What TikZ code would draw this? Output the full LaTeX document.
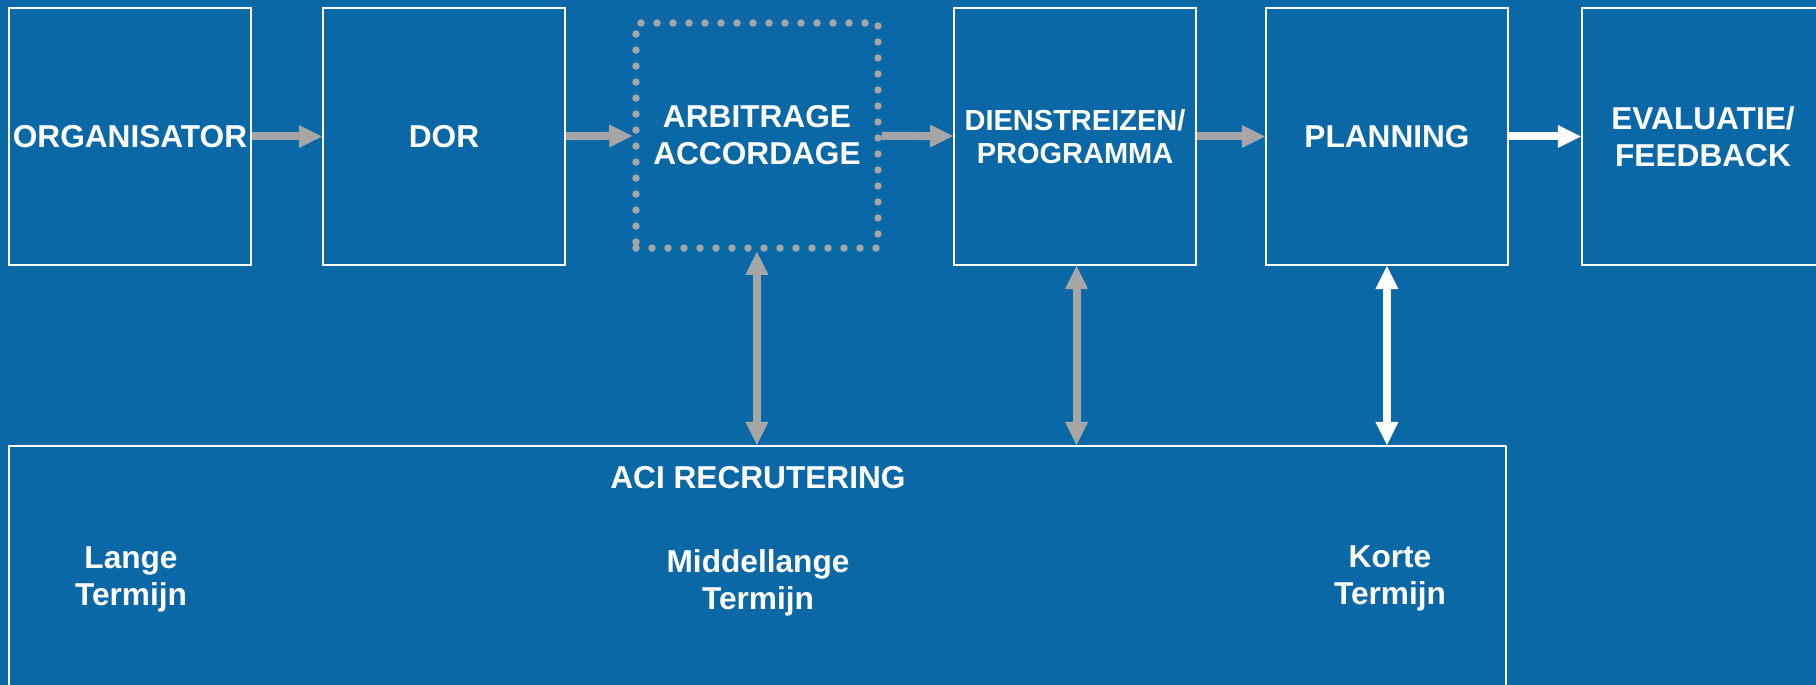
\documentclass[tikz,border=0pt]{standalone}
\usepackage{fontspec}
\setmainfont{Liberation Sans}
\usetikzlibrary{arrows.meta}
\definecolor{slideblue}{HTML}{0B68A6}
\definecolor{arrowgray}{HTML}{A6A6A6}
\newcommand{\boxfont}{\fontsize{18}{21}\selectfont\bfseries}
\newcommand{\narrowfont}{\fontsize{16.5}{18.9}\selectfont\bfseries}
\tikzset{
  stage/.style={draw=white, line width=0.04cm, minimum width=4.84cm, minimum height=5.14cm, align=center, text=white, font=\boxfont},
  dotbox/.style={draw=arrowgray, line width=0.15cm, line cap=round, dash pattern=on 0pt off 0.32cm, minimum width=4.84cm, minimum height=4.5cm, align=center, text=white, font=\boxfont},
  label/.style={align=center, text=white, font=\boxfont},
  flow/.style={draw=#1, line width=0.16cm, -{Triangle[length=0.46cm, width=0.46cm, line width=0pt]}},
  link/.style={draw=#1, line width=0.16cm, {Triangle[length=0.46cm, width=0.46cm, line width=0pt]}-{Triangle[length=0.46cm, width=0.46cm, line width=0pt]}}
}
\begin{document}
\begin{tikzpicture}[scale=0.2]
\tikzstyle{every node}+=[inner sep=0pt]
\useasboundingbox (0,0) rectangle (181.6,-68.5);
\fill [slideblue] (0,0) rectangle (181.6,-68.5);
\clip (0,0) rectangle (181.6,-68.5);
\node [stage] (org) at (13,-13.65) {ORGANISATOR};
\node [stage] (dor) at (44.4,-13.65) {DOR};
\node [dotbox] (arb) at (75.7,-13.55) {ARBITRAGE\\ACCORDAGE};
\node [stage, font=\narrowfont] (dien) at (107.5,-13.65) {DIENSTREIZEN/\\PROGRAMMA};
\node [stage] (plan) at (138.7,-13.65) {PLANNING};
\node [stage] (eval) at (170.3,-13.65) {EVALUATIE/\\FEEDBACK};
\node [draw=white, line width=0.04cm, minimum width=29.94cm, minimum height=5.08cm] (aci) at (75.75,-57.3) {};
\node [label] (acititle) at (75.8,-47.8) {ACI RECRUTERING};
\node [label] (lang) at (13.1,-57.9) {Lange\\Termijn};
\node [label] (middel) at (75.8,-58.3) {Middellange\\Termijn};
\node [label] (kort) at (139,-57.8) {Korte\\Termijn};
\draw [flow=arrowgray] (org) -- (dor);
\draw [flow=arrowgray] (dor) -- (arb);
\draw [flow=arrowgray] (arb) -- (dien);
\draw [flow=arrowgray] (dien) -- (plan);
\draw [flow=white] (plan) -- (eval);
\draw [link=arrowgray] (arb.south) -- (arb.south |- aci.north);
\draw [link=arrowgray] ([xshift=0.16cm]dien.south) -- ([xshift=0.16cm]dien.south |- aci.north);
\draw [link=white] (plan.south) -- (plan.south |- aci.north);
\end{tikzpicture}
\end{document}
